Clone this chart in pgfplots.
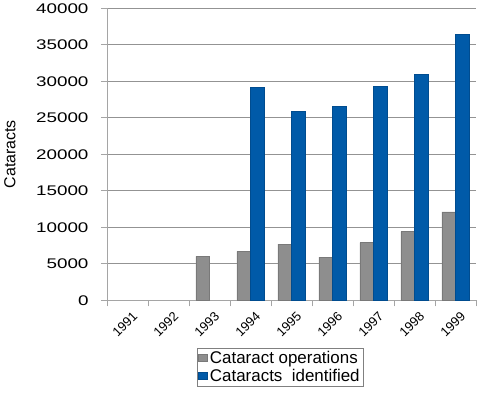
\documentclass[border=0pt]{standalone}
\usepackage{fontspec}
\setmainfont{Liberation Sans}
\newfontfamily\widesans[FakeStretch=1.35]{Liberation Sans}
\usepackage{pgfplots}
\pgfplotsset{compat=1.18}
\definecolor{barg}{RGB}{142,142,142}
\definecolor{barb}{RGB}{0,90,168}
\definecolor{axg}{RGB}{165,165,165}
\begin{document}
\begin{tikzpicture}
\begin{axis}[
 at={(0,0)}, anchor=south west,
 scale only axis, width=369bp, height=292bp,
 ybar=0pt, bar width=13.5bp,
 xmin=-0.5, xmax=8.5, ymin=0, ymax=40000,
 ytick={0,5000,10000,15000,20000,25000,30000,35000,40000},
 minor ytick={0,5000,10000,15000,20000,25000,30000,35000,40000},
 scaled y ticks=false,
 /pgf/number format/assume math mode=true,
 /pgf/number format/set thousands separator={},
 yticklabel style={font=\widesans\fontsize{14}{14}\selectfont, xshift=-15bp},
 xtick={0,1,2,3,4,5,6,7,8},
 xticklabels={1991,1992,1993,1994,1995,1996,1997,1998,1999},
 minor xtick={-0.5,0.5,1.5,2.5,3.5,4.5,5.5,6.5,7.5,8.5},
 xticklabel style={rotate=45, anchor=north east, font=\fontsize{13}{13}\selectfont, yshift=-7bp, xshift=-1bp},
 axis x line*=bottom, axis y line*=left,
 axis line style={draw=axg, line width=0.8pt},
 tick style={draw=axg, line width=0.8pt},
 tick align=outside, major tick length=0pt, minor tick length=6bp,
 ymajorgrids, grid style={draw=gray!85, line width=0.8pt},
 ylabel={Cataracts},
 ylabel style={at={(axis description cs:-0.263,0.5)}, anchor=center, font=\fontsize{16}{16}\selectfont},
 legend style={at={(axis description cs:0.469,-0.229)}, anchor=center, draw=gray, inner sep=1.5bp, font=\fontsize{17}{17}\selectfont, row sep=0bp, cells={anchor=west}},
 legend image code/.code={\fill[#1] (0bp,-3.5bp) rectangle (9bp,3.5bp);},
]
\addplot[fill=barg, draw=barg!85!black, line width=0.5pt] coordinates {(2,6000)(3,6700)(4,7700)(5,5900)(6,7900)(7,9400)(8,12100)};
\addplot[fill=barb, draw=barb!85!black, line width=0.5pt] coordinates {(3,29200)(4,25900)(5,26600)(6,29300)(7,30900)(8,36400)};
\legend{Cataract operations, Cataracts\ \ identified}
\end{axis}
\path[use as bounding box] (-107bp,-92bp) rectangle (373bp,299bp);
\end{tikzpicture}
\end{document}
